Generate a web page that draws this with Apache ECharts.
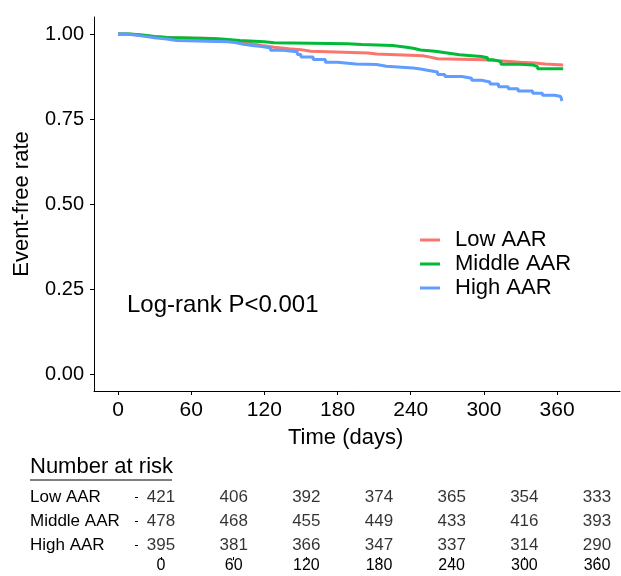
<!DOCTYPE html>
<html>
<head>
<meta charset="utf-8">
<script src="https://cdn.jsdelivr.net/npm/echarts@6/dist/echarts.min.js"></script>
<style>
  html, body { margin: 0; padding: 0; background: #fff; }
  #chart { width: 621px; height: 576px; }
</style>
</head>
<body>
<div id="chart"></div>
<script>
// survival curves, [day, event-free rate]
const lowAAR = [
  [0, 1.000], [8, 0.998], [15, 0.995], [22, 0.992], [30, 0.989], [45, 0.988], [60, 0.987],
  [78, 0.983], [85, 0.979], [98, 0.975], [105, 0.970], [112, 0.966], [118, 0.961], [128, 0.957],
  [140, 0.954], [150, 0.949], [158, 0.944], [205, 0.941], [212, 0.936], [250, 0.932], [256, 0.927],
  [262, 0.924], [300, 0.921], [312, 0.917], [330, 0.915], [342, 0.912], [350, 0.909], [365, 0.909]
];
const middleAAR = [
  [0, 1.000], [10, 0.997], [20, 0.993], [30, 0.990], [40, 0.987], [75, 0.985], [85, 0.981],
  [100, 0.977], [120, 0.974], [128, 0.971], [188, 0.969], [200, 0.966], [225, 0.962], [235, 0.958],
  [242, 0.953], [248, 0.949], [260, 0.944], [270, 0.939], [280, 0.934], [298, 0.930], [303, 0.924],
  [308, 0.919], [314, 0.911], [330, 0.909], [340, 0.904], [344, 0.898], [365, 0.898]
];
const highAAR = [
  [0, 1.000], [6, 0.997], [14, 0.993], [22, 0.989], [30, 0.985], [40, 0.981], [48, 0.977],
  [90, 0.975], [96, 0.970], [103, 0.966], [110, 0.963], [118, 0.959], [125, 0.952], [135, 0.948],
  [147, 0.940], [150, 0.932], [160, 0.925], [170, 0.917], [180, 0.912], [195, 0.910], [212, 0.905],
  [220, 0.900], [242, 0.897], [248, 0.892], [256, 0.888], [262, 0.881], [268, 0.875], [282, 0.870],
  [290, 0.864], [298, 0.859], [305, 0.853], [312, 0.845], [320, 0.839], [328, 0.832], [340, 0.826],
  [348, 0.820], [358, 0.816], [363, 0.811], [364, 0.803]
];

const groups = ['Low AAR', 'Middle AAR', 'High AAR'];
const timeTicks = [0, 60, 120, 180, 240, 300, 360];
const rateTicks = [0, 0.25, 0.5, 0.75, 1];

// number at risk at each time tick
const riskLow = [421, 406, 392, 374, 365, 354, 333];
const riskMiddle = [478, 468, 455, 449, 433, 416, 393];
const riskHigh = [395, 381, 366, 347, 337, 314, 290];

const colors = ['#F8766D', '#00BA38', '#619CFF'];
const font = 'Liberation Sans, Arial, sans-serif';

const riskData = [];
[riskLow, riskMiddle, riskHigh].forEach((row, i) => {
  row.forEach((n, j) => riskData.push([timeTicks[j], groups[i], n]));
});

const chart = echarts.init(document.getElementById('chart'));

const curveSeries = [lowAAR, middleAAR, highAAR].map((d, i) => ({
  name: groups[i],
  type: 'line',
  step: 'end',
  data: d,
  symbol: 'none',
  lineStyle: { color: colors[i], width: 3 },
  itemStyle: { color: colors[i] },
  xAxisIndex: 0,
  yAxisIndex: 0
}));

const option = {
  animation: false,
  textStyle: { fontFamily: font, color: '#000' },
  grid: [
    { left: 94, top: 17, width: 526, height: 374 },
    { left: 138, top: 485, width: 482, height: 72 }
  ],
  xAxis: [
    {
      type: 'value', gridIndex: 0, min: -19.7, max: 411.6,
      splitLine: { show: false },
      axisLine: { onZero: false, lineStyle: { color: '#000', width: 1 } },
      axisTick: { customValues: timeTicks, length: 4, lineStyle: { color: '#000' } },
      axisLabel: { customValues: timeTicks, fontSize: 21, color: '#000', margin: 9, fontFamily: font }
    },
    {
      type: 'value', gridIndex: 1, min: -19, max: 379,
      splitLine: { show: false },
      axisLine: { show: true, onZero: false, lineStyle: { color: '#000', opacity: 0 } },
      axisTick: { show: true, customValues: timeTicks, length: 3, lineStyle: { color: '#000' } },
      axisLabel: { customValues: timeTicks, fontSize: 16, color: '#000', margin: 1, fontFamily: font }
    }
  ],
  yAxis: [
    {
      type: 'value', gridIndex: 0, min: -0.05, max: 1.05,
      splitLine: { show: false },
      axisLine: { show: true, onZero: false, lineStyle: { color: '#000', width: 1 } },
      axisTick: { customValues: rateTicks, length: 4, lineStyle: { color: '#000' } },
      axisLabel: {
        customValues: rateTicks, fontSize: 20, color: '#000', margin: 10, fontFamily: font,
        formatter: v => v.toFixed(2)
      },
      name: 'Event-free rate', nameLocation: 'middle', nameGap: 61,
      nameTextStyle: { fontSize: 22, color: '#000', fontFamily: font }
    },
    {
      type: 'category', gridIndex: 1, data: groups, inverse: true,
      axisLine: { show: true, onZero: false, lineStyle: { color: '#000', opacity: 0 } },
      axisTick: { show: true, alignWithLabel: true, length: 3, lineStyle: { color: '#000' } },
      axisLabel: { align: 'left', margin: 108, fontSize: 17, color: '#000', fontFamily: font }
    }
  ],
  legend: {
    orient: 'vertical', left: 415, top: 224,
    data: groups,
    icon: 'rect', itemWidth: 20, itemHeight: 3, itemGap: 2,
    textStyle: { fontSize: 22, color: '#000', fontFamily: font, padding: [0, 0, 0, 10], lineHeight: 22 }
  },
  graphic: [
    {
      type: 'text', left: 127, top: 293,
      style: { text: 'Log-rank P<0.001', fontSize: 24, fill: '#000', fontFamily: font }
    },
    {
      type: 'text', left: 288, top: 427,
      style: { text: 'Time (days)', fontSize: 22, fill: '#000', fontFamily: font }
    },
    {
      type: 'text', left: 30, top: 456,
      style: { text: 'Number at risk', fontSize: 22, fill: '#000', fontFamily: font }
    },
    {
      type: 'line', shape: { x1: 30, y1: 480, x2: 172, y2: 480 },
      style: { stroke: '#000', lineWidth: 1 }
    }
  ],
  series: curveSeries.concat([
    {
      type: 'scatter', xAxisIndex: 1, yAxisIndex: 1,
      data: riskData, symbolSize: 1,
      itemStyle: { color: 'rgba(0,0,0,0)' },
      label: {
        show: true, position: 'inside', fontSize: 17, color: '#000', fontFamily: font,
        formatter: p => String(p.value[2])
      }
    }
  ])
};

chart.setOption(option);
</script>
</body>
</html>
